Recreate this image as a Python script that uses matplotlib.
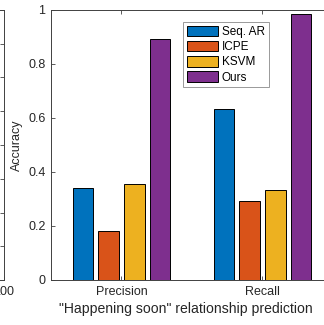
import matplotlib
matplotlib.use("Agg")
import matplotlib.pyplot as plt
import numpy as np

categories = ["Precision", "Recall"]
methods = ["Seq. AR", "ICPE", "KSVM", "Ours"]
seq_ar = [0.342, 0.632]
icpe = [0.181, 0.292]
ksvm = [0.354, 0.333]
ours = [0.893, 0.984]
yticks = [0, 0.2, 0.4, 0.6, 0.8, 1]
ytick_labels = ["0", "0.2", "0.4", "0.6", "0.8", "1"]
colors = ["#0072BD", "#D95319", "#EDB120", "#7E2F8E"]

plt.rcParams['font.family'] = ['Liberation Sans', 'DejaVu Sans']
W, H = 324, 325
fig = plt.figure(figsize=(W / 100, H / 100), dpi=100)

axc = "#404040"

# partially visible left subplot
axl = fig.add_axes([(-200) / W, 45 / H, 204 / W, 270 / H])
axl.set_xlim(0, 100)
axl.set_ylim(0, 8)
axl.set_yticks(range(9))
axl.set_yticklabels([])
axl.yaxis.set_ticks_position('both')
axl.set_xticks([100])
axl.set_xticklabels(["100"], fontsize=9, color="#262626")
axl.tick_params(direction='in', length=3, color=axc, width=0.6, pad=4)
for s in axl.spines.values():
    s.set_color(axc)
    s.set_linewidth(0.7)

# main axes
ax = fig.add_axes([51 / W, 45 / H, 282 / W, 270 / H])
series = [seq_ar, icpe, ksvm, ours]
x = np.arange(1, len(categories) + 1)
n = len(series)
gw = 0.727
step = gw / n
bw = step * 0.8
for i, (vals, c, m) in enumerate(zip(series, colors, methods)):
    ax.bar(x + (i - (n - 1) / 2) * step, vals, width=bw, color=c,
           edgecolor="black", linewidth=0.7, label=m, zorder=2)

ax.set_xlim(0.5, 2.5)
ax.set_ylim(0, 1)
ax.set_yticks(yticks)
ax.set_yticklabels(ytick_labels, fontsize=9, color="#262626")
ax.set_xticks(x)
ax.set_xticklabels(categories, fontsize=9, color="#262626")
ax.xaxis.set_ticks_position('both')
ax.yaxis.set_ticks_position('both')
ax.tick_params(direction='in', length=3, color=axc, width=0.6, pad=4)
for s in ax.spines.values():
    s.set_color(axc)
    s.set_linewidth(0.7)
ax.set_ylabel("Accuracy", fontsize=9, color="#262626", labelpad=4)
ax.set_xlabel('"Happening soon" relationship prediction', fontsize=10.1,
              color="#262626")
ax.xaxis.set_label_coords((186 - 51) / 282, (280 - 302) / 270)

leg = ax.legend(loc='upper left', bbox_to_anchor=((183 - 51) / 282, 1 - 12 / 270),
                fontsize=8.5, frameon=True, fancybox=False, handlelength=2.7,
                handleheight=1.0, handletextpad=0.3, borderpad=0.3,
                labelspacing=0.25, borderaxespad=0)
leg.get_frame().set_edgecolor("#808080")
leg.get_frame().set_linewidth(0.7)

fig.savefig("out.png", dpi=100)
